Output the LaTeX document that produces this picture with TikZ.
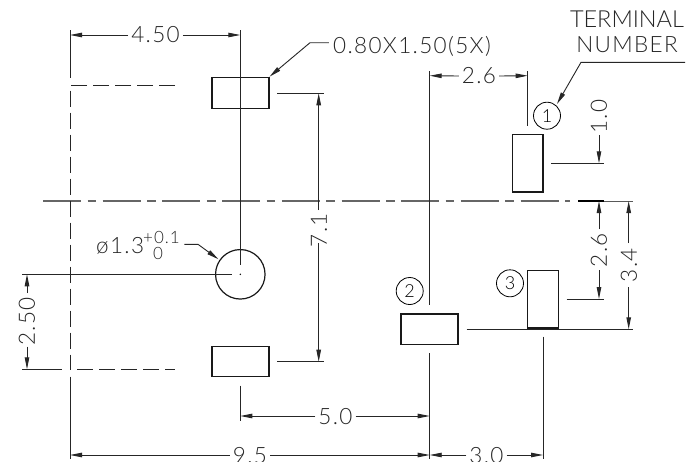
\documentclass[tikz,border=0pt]{standalone}
\usepackage{fontspec}
\usetikzlibrary{arrows.meta}
\newfontfamily\cadfont[UprightFont=* Light,LetterSpace=6]{Lato}
\newfontfamily\cadwide[UprightFont=* Light]{Lato}
\tikzset{
  x=1pt,y=-1pt,
  thinl/.style={line width=0.9pt,black!85},
  padbox/.style={draw=black!90,line width=1.35pt,inner sep=0pt,minimum height=#1},
  hpad/.style={padbox=30.5pt,minimum width=57pt},
  vpad/.style={padbox=57.5pt,minimum width=30.5pt},
  termcirc/.style={draw,circle,line width=0.8pt,minimum size=27pt,inner sep=0pt,font=\cadfont\fontsize{18}{18}\selectfont},
  dimtext/.style={inner sep=0pt,font=\cadfont\fontsize{22.5}{22.5}\selectfont,text=black!85},
  widetext/.style={inner sep=0pt,font=\cadwide\fontsize{23.5}{23.5}\selectfont,text=black!85},
  smalltext/.style={inner sep=0pt,font=\cadfont\fontsize{17}{17}\selectfont,text=black!85},
  dimarrow/.style={thinl,-{Triangle[length=12pt,width=4.5pt]}},
  outline/.style={line width=0.9pt,black!85,dash pattern=on 16pt off 6pt},
  centerl/.style={line width=1.5pt,black!60,dash pattern=on 38pt off 6.5pt on 8.7pt off 6.5pt},
}
\begin{document}
\begin{tikzpicture}
\useasboundingbox (0,0) rectangle (688,461);
\clip (0,0) rectangle (688,461);
\fill[white] (0,0) rectangle (688,461);

% centre line
\draw[centerl] (43,201) -- (570,201);
\draw[line width=1.3pt,black] (578,201) -- (604,201);
\draw[line width=1pt,black!65] (604,201) -- (633,201);

% dashed outline
\draw[outline] (175,85.7) -- (70,85.7) -- (70,369.3) -- (175,369.3);

% pads
\node[hpad] (padA) at (240.5,93) {};
\node[hpad] (padB) at (240.5,361.5) {};
\node[hpad] (padC) at (429.5,329.3) {};
\node[vpad] (padD) at (527.7,163.3) {};
\node[vpad] (padE) at (543,299.3) {};
\node[draw=black!90,circle,line width=1.2pt,minimum size=49.5pt,inner sep=0pt] (hole) at (240.3,274.3) {};
\fill (hole.center) circle (0.8pt);

% terminal circles
\node[termcirc] (t1) at (547,115.7) {1};
\node[termcirc] (t2) at (409.7,291) {2};
\node[termcirc] (t3) at (510,283.3) {3};

% extension lines
\draw[thinl] (70,30) -- (70,78);
\draw[thinl] (70,376.7) -- (70,459);
\draw[thinl] (240.3,30) -- (240.3,265);
\draw[thinl] (22,274.3) -- (232,274.3);
\draw[thinl] (22,369.3) -- (62,369.3);
\draw[thinl] (277.3,93.3) -- (324,93.3);
\draw[thinl] (277.3,361.7) -- (324,361.7);
\draw[thinl] (240.3,385.7) -- (240.3,420.7);
\draw[thinl] (429.7,71) -- (429.7,305);
\draw[thinl] (429.7,353) -- (429.7,459);
\draw[thinl] (527.7,71) -- (527.7,126);
\draw[thinl] (551,163.3) -- (604,163.3);
\draw[thinl] (566.7,299) -- (604,299);
\draw[thinl] (466.7,329.3) -- (633,329.3);
\draw[thinl] (543,336.7) -- (543,459);

% dimension texts
\node[dimtext] (d450) at (155.5,35) {4.50};
\node[dimtext,rotate=90] (d71) at (319,230) {7.1};
\node[dimtext,rotate=90] (d250) at (27,321.7) {2.50};
\node[dimtext] (d50) at (335.5,417) {5.0};
\node[dimtext] (d95) at (250,456) {9.5};
\node[dimtext] (d30) at (486.5,456) {3.0};
\node[dimtext] (d26a) at (479,76) {2.6};
\node[dimtext,rotate=90] (d10) at (599,116.5) {1.0};
\node[dimtext,rotate=90] (d26b) at (599,250) {2.6};
\node[dimtext,rotate=90] (d34) at (629,265) {3.4};
\node[dimtext] (size) at (412,46) {0.80X1.50(5X)};
\node[widetext] (term1) at (627,19.5) {TERMINAL};
\node[dimtext] (term2) at (627,45) {NUMBER};
\node[dimtext,anchor=west] (dia) at (96,246) {ø1.3};
\node[smalltext,anchor=west] (diaup) at (143,237.5) {+0.1};
\node[smalltext] (dialow) at (158,253.5) {0};

% dimension arrows
\draw[dimarrow] (d450.west) ++(-3,0) -- (70,35);
\draw[dimarrow] (d450.east) ++(3,0) -- (240.3,35);
\draw[dimarrow] (318.7,210) -- (318.7,93.3);
\draw[dimarrow] (318.7,243) -- (318.7,361.7);
\draw[dimarrow] (27,293) -- (27,274.3);
\draw[dimarrow] (27,346.7) -- (27,369.3);
\draw[dimarrow] (d50.west) ++(-3,-1) -- (240.3,416);
\draw[dimarrow] (d50.east) ++(3,-1) -- (429.7,416);
\draw[dimarrow] (d95.west) ++(-3,-1) -- (70,455);
\draw[dimarrow] (d95.east) ++(3,-1) -- (429.7,455);
\draw[dimarrow] (d30.west) ++(-3,-1) -- (429.7,455);
\draw[dimarrow] (d30.east) ++(3,-1) -- (543,455);
\draw[dimarrow] (d26a.west) ++(-3,0) -- (429.7,75.7);
\draw[dimarrow] (d26a.east) ++(3,0) -- (527.7,75.7);
\draw[dimarrow] (599,135) -- (599,163.3);
\draw[dimarrow] (599,229) -- (599,201);
\draw[dimarrow] (599,270) -- (599,299);
\draw[dimarrow] (628.7,243) -- (628.7,201);
\draw[dimarrow] (628.7,287) -- (628.7,329.3);

% leaders
\draw[dimarrow] (size.west) ++(-4,-3.3) -- (310,42.7) -- (269.5,76.7);
\draw[dimarrow] (685,62.3) -- (581,62.3) -- (557,104);
\draw[dimarrow] (184.3,244.3) -- (198,244.3) -- (218.5,259.3);
\end{tikzpicture}
\end{document}
